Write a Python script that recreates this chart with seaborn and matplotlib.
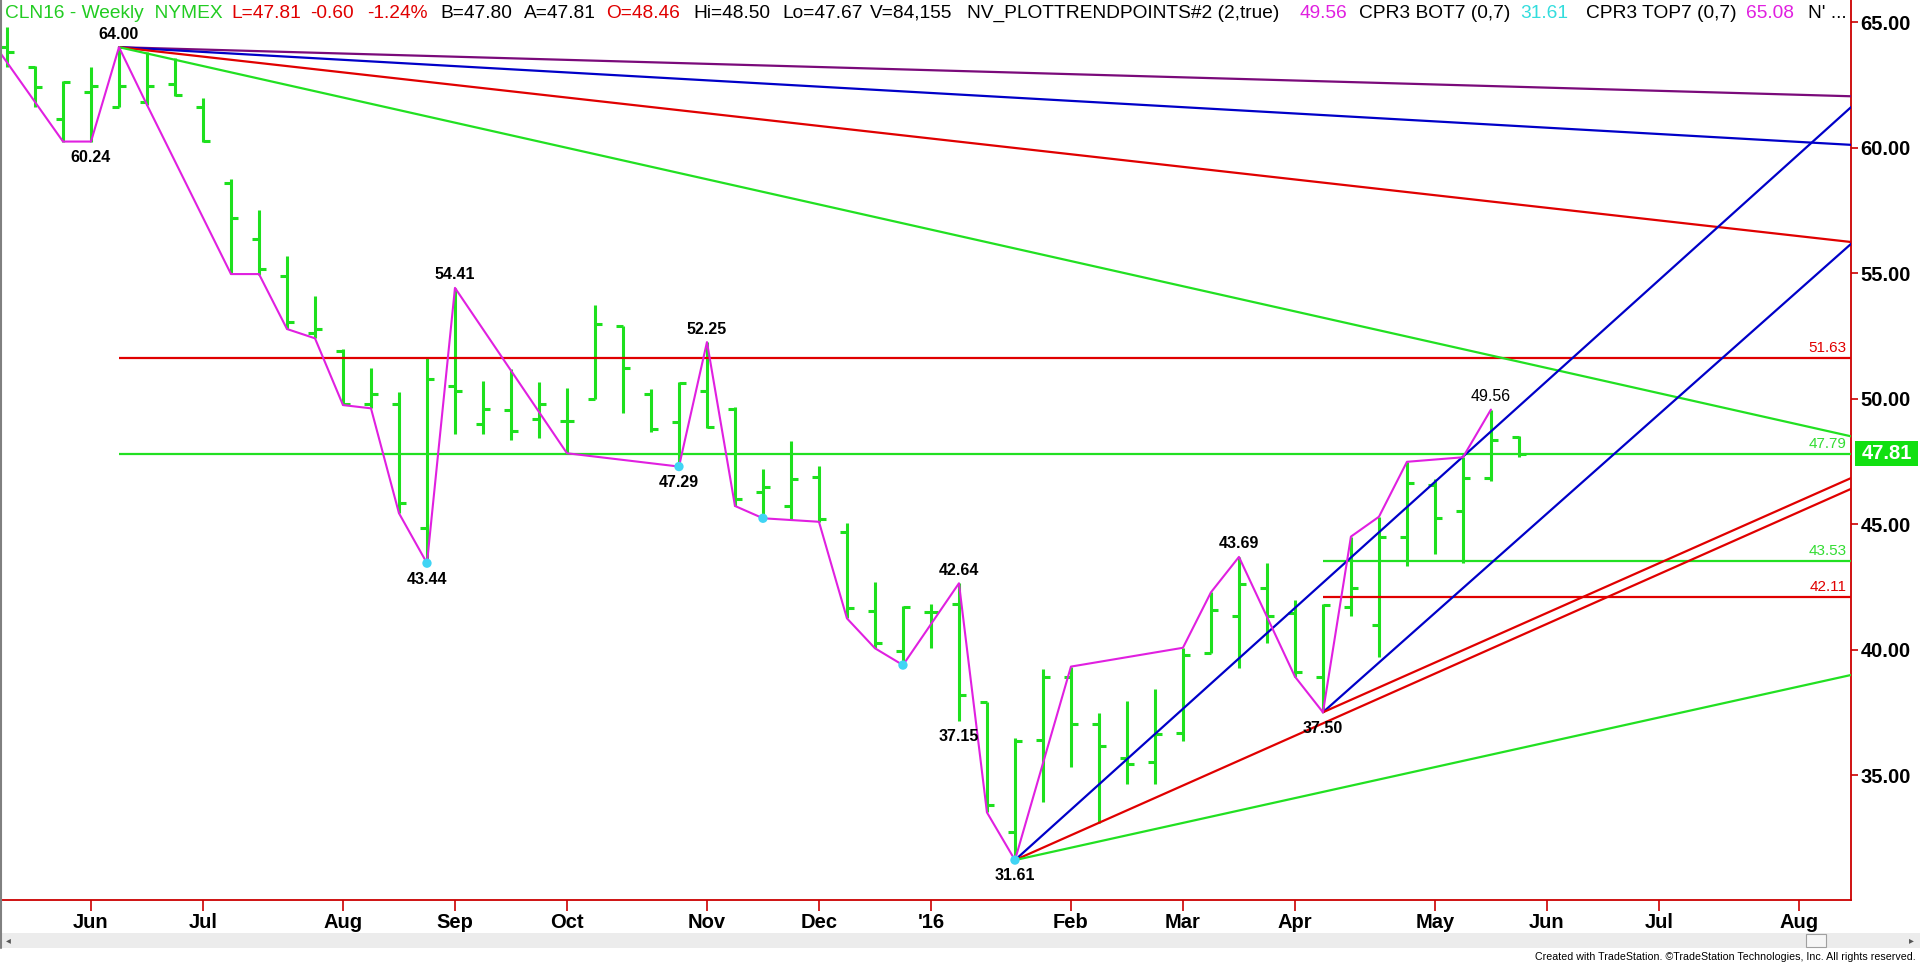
import numpy as np
import pandas as pd
import matplotlib
matplotlib.use("Agg")
import matplotlib.pyplot as plt
import matplotlib.transforms as mtransforms
from matplotlib.patches import Rectangle
import seaborn as sns

# CLN16 weekly bars, first bar is the week ending Fri 15 May 2015
first_week = "2015-05-15"
opens = [64.00, 63.20, 61.14, 62.20, 61.60, 61.80, 62.53, 61.60, 58.60, 56.34,
         54.88, 52.60, 51.89, 49.80, 49.80, 44.83, 50.50, 48.98, 49.54, 49.17,
         49.09, 49.97, 52.89, 50.18, 49.05, 50.31, 49.60, 46.29, 45.73, 46.86,
         44.67, 41.53, 39.95, 41.48, 41.80, 37.90, 32.72, 36.40, 38.92, 37.03,
         35.67, 35.51, 36.69, 39.85, 41.33, 42.44, 41.44, 38.92, 41.68, 40.97,
         44.50, 46.55, 45.52, 46.85, 48.46]
highs = [64.79, 63.26, 62.66, 63.20, 64.00, 63.80, 63.55, 61.96, 58.75, 57.51,
         55.68, 54.08, 51.97, 51.20, 50.25, 51.64, 54.41, 50.71, 51.17, 50.64,
         50.44, 53.73, 52.89, 50.40, 50.67, 52.25, 49.67, 47.19, 48.32, 47.32,
         45.05, 42.68, 41.73, 41.81, 42.64, 37.92, 36.46, 39.21, 39.32, 37.48,
         37.96, 38.43, 40.07, 42.28, 43.69, 43.43, 41.97, 41.81, 44.50, 45.29,
         47.48, 46.78, 47.66, 49.56, 48.50]
lows = [63.20, 61.60, 60.24, 60.24, 61.60, 61.70, 62.07, 60.23, 54.96, 54.92,
        52.77, 52.40, 49.74, 49.61, 45.43, 43.44, 48.57, 48.59, 48.35, 48.41,
        47.82, 49.97, 49.44, 48.68, 47.29, 48.81, 45.72, 45.23, 45.16, 45.09,
        41.24, 40.05, 39.38, 40.05, 37.15, 33.51, 31.61, 33.94, 35.30, 33.07,
        34.64, 34.64, 36.37, 39.85, 39.25, 40.25, 38.92, 37.50, 41.33, 39.71,
        43.33, 43.80, 43.46, 46.71, 47.67]
closes = [63.79, 62.42, 62.60, 62.46, 62.46, 62.46, 62.10, 60.25, 57.18, 55.16,
          53.04, 52.77, 49.80, 50.17, 45.82, 50.76, 50.31, 49.57, 48.72, 49.78,
          49.09, 52.97, 51.20, 48.78, 50.60, 48.88, 45.98, 46.49, 46.79, 45.19,
          41.67, 40.25, 41.71, 41.50, 38.19, 33.80, 36.35, 38.92, 37.03, 36.16,
          35.44, 36.63, 39.78, 41.57, 42.61, 41.33, 39.10, 41.77, 42.44, 44.50,
          46.62, 45.26, 46.82, 48.35, 47.81]

# NV_PLOTTRENDPOINTS zigzag (bar number, price)
zig_bars = [-1, 2, 3, 4, 5, 8, 9, 10, 11, 12, 13, 14, 15, 16, 20, 24, 25, 26, 27,
            28, 29, 30, 31, 32, 34, 35, 36, 38, 42, 43, 44, 46, 47, 48, 49, 50, 52, 53]
zig_prices = [64.97, 60.24, 60.24, 64.00, 61.70, 54.96, 54.96, 52.77, 52.40, 49.74,
              49.61, 45.43, 43.44, 54.41, 47.82, 47.29, 52.25, 45.72, 45.23, 45.16,
              45.09, 41.24, 40.05, 39.38, 42.64, 33.51, 31.61, 39.32, 40.07, 42.28,
              43.69, 38.92, 37.50, 44.50, 45.29, 47.48, 47.66, 49.56]

# cyan swing-low markers
dot_bars = [15, 24, 27, 32, 36]
dot_prices = [43.44, 47.29, 45.23, 39.38, 31.61]

# swing labels: bar, price, text, above?, bold?
lab_bars = [4, 3, 16, 15, 25, 24, 34, 34, 36, 44, 47, 53]
lab_prices = [64.00, 60.24, 54.41, 43.44, 52.25, 47.29, 42.64, 37.15, 31.61, 43.69, 37.50, 49.56]
lab_above = [True, False, True, False, True, False, True, False, False, True, False, True]
lab_bold = [True] * 11 + [False]

# trend lines: (start bar, start price, end bar, end price, colour)
trend_x0 = [4, 4, 4, 4, 36, 36, 36, 47, 47]
trend_y0 = [64.00, 64.00, 64.00, 64.00, 31.61, 31.61, 31.61, 37.50, 37.50]
trend_x1 = [66] * 9
trend_y1 = [62.04, 60.10, 56.22, 48.46, 61.75, 46.47, 39.02, 56.30, 46.90]
trend_col = ["#7a0a7a", "#0000c8", "#e00000", "#22e022",
             "#0000c8", "#e00000", "#22e022", "#0000c8", "#e00000"]

# horizontal levels
lvl_price = [51.63, 47.79, 43.53, 42.11]
lvl_start = [4, 4, 47, 47]
lvl_col = ["#e00000", "#22e022", "#22e022", "#e00000"]
lvl_text_col = ["#e00000", "#33dd33", "#33dd33", "#e00000"]

last_price = 47.81
y_ticks = [35, 40, 45, 50, 55, 60, 65]

header = [("CLN16 - Weekly  NYMEX", 5, "#22cc22"), ("L=47.81", 231, "#e00000"),
          ("-0.60", 310, "#e00000"), ("-1.24%", 367, "#e00000"),
          ("B=47.80", 440, "black"), ("A=47.81", 524, "black"),
          ("O=48.46", 606, "#e00000"), ("Hi=48.50", 693, "black"),
          ("Lo=47.67", 782, "black"), ("V=84,155", 870, "black"),
          ("NV_PLOTTRENDPOINTS#2 (2,true)", 967, "black"), ("49.56", 1300, "#e020e0"),
          ("CPR3 BOT7 (0,7)", 1359, "black"), ("31.61", 1520, "#33dddd"),
          ("CPR3 TOP7 (0,7)", 1586, "black"), ("65.08", 1746, "#e020e0"),
          ("N' ...", 1808, "black")]

sns.set_theme(style="white")
plt.rcParams["font.family"] = ["Liberation Sans", "DejaVu Sans"]

W, H = 1920, 964
fig = plt.figure(figsize=(W / 100, H / 100), dpi=100)
ax = fig.add_axes([0, 64 / H, 1851 / W, 900 / H])

GREEN = "#1ee01e"
RED_AX = "#cc0000"

idx = np.arange(len(opens))
ax.vlines(idx, lows, highs, color=GREEN, lw=2.2, zorder=2)
ax.hlines(opens, idx - 0.24, idx, color=GREEN, lw=2.2, zorder=2)
ax.hlines(closes, idx, idx + 0.26, color=GREEN, lw=2.2, zorder=2)

xmax = 65.86
for p, s, c, tc in zip(lvl_price, lvl_start, lvl_col, lvl_text_col):
    ax.hlines(p, s, xmax, color=c, lw=1.6, zorder=3)
    ax.text(xmax - 0.15, p + 0.12, f"{p:.2f}", color=tc, fontsize=11,
            ha="right", va="bottom", zorder=6)

for x0, y0, x1, y1, c in zip(trend_x0, trend_y0, trend_x1, trend_y1, trend_col):
    sns.lineplot(x=[x0, x1], y=[y0, y1], color=c, lw=1.6, ax=ax, zorder=3)

sns.lineplot(x=zig_bars, y=zig_prices, sort=False, estimator=None,
             color="#e020e0", lw=1.5, ax=ax, zorder=4)
sns.scatterplot(x=dot_bars, y=dot_prices, color="#40d4f4", s=45,
                edgecolor="none", ax=ax, zorder=5)

for b, p, above, bold in zip(lab_bars, lab_prices, lab_above, lab_bold):
    ax.annotate(f"{p:.2f}", (b, p), xytext=(0, 4 if above else -6),
                textcoords="offset points", ha="center",
                va="bottom" if above else "top", fontsize=11.5,
                fontweight="bold" if bold else "normal", color="black", zorder=6)

ax.set_xlim(-0.25, xmax)
ax.set_ylim(30.02, 65.88)

# month ticks from the weekly calendar
weeks = pd.date_range(first_week, periods=67, freq="W-FRI")
m_pos, m_lab = [], []
for i in range(1, len(weeks)):
    if weeks[i].month != weeks[i - 1].month:
        m_pos.append(i)
        m_lab.append("'" + weeks[i].strftime("%y") if weeks[i].month == 1 else weeks[i].strftime("%b"))
ax.set_xticks(m_pos)
ax.set_xticklabels(m_lab, fontsize=14.5, fontweight="bold")
ax.yaxis.tick_right()
ax.set_yticks(y_ticks)
ax.set_yticklabels([f"{t:.2f}" for t in y_ticks], fontsize=14.5, fontweight="bold")
ax.tick_params(axis="x", color=RED_AX, length=8, width=1.2, direction="out",
               pad=1, labelcolor="black", bottom=True)
ax.tick_params(axis="y", color=RED_AX, length=5, width=1.2, direction="out",
               pad=2, labelcolor="black", right=True, left=False)
for side in ["top", "left"]:
    ax.spines[side].set_visible(False)
for side in ["right", "bottom"]:
    ax.spines[side].set_color(RED_AX)
    ax.spines[side].set_linewidth(1.3)
ax.set_xlabel("")
ax.set_ylabel("")

# last price box on the price axis
blend = mtransforms.blended_transform_factory(ax.transAxes, ax.transData)
ax.add_patch(Rectangle((1 + 4 / 1851, last_price - 0.48), 63 / 1851, 0.96,
                       transform=blend, facecolor="#11e011", edgecolor="none",
                       clip_on=False, zorder=7))
ax.text(1 + 35.5 / 1851, last_price, f"{last_price:.2f}", transform=blend,
        ha="center", va="center", color="white", fontsize=14.5,
        fontweight="bold", clip_on=False, zorder=8)

# header line
for txt, px, c in header:
    fig.text(px / W, 1 - 13 / H, txt, color=c, fontsize=13.8, ha="left", va="center")

# scrollbar and footer
fig.patches.append(Rectangle((0, (H - 948) / H), 1, 15 / H, transform=fig.transFigure,
                             facecolor="#ececec", edgecolor="none", zorder=0))
fig.patches.append(Rectangle((1806 / W, (H - 947) / H), 20 / W, 13 / H,
                             transform=fig.transFigure, facecolor="#f6f6f6",
                             edgecolor="#a0a0a0", lw=0.8, zorder=1))
fig.text(8 / W, 1 - 940 / H, "\u25c2", color="#555555", fontsize=7,
         ha="center", va="center", family="DejaVu Sans")
fig.text(1911 / W, 1 - 940 / H, "\u25b8", color="#555555", fontsize=7,
         ha="center", va="center", family="DejaVu Sans")
fig.add_artist(plt.Line2D([1 / W, 1 / W], [1 - 948 / H, 1], transform=fig.transFigure,
                          color="#808080", lw=1.5))
fig.text(1916 / W, 1 - 957 / H,
         "Created with TradeStation. \u00a9TradeStation Technologies, Inc. All rights reserved.",
         fontsize=7.7, ha="right", va="center", color="black",
         family=["Liberation Sans Narrow", "Liberation Sans"])

fig.savefig("out.png", dpi=100)
